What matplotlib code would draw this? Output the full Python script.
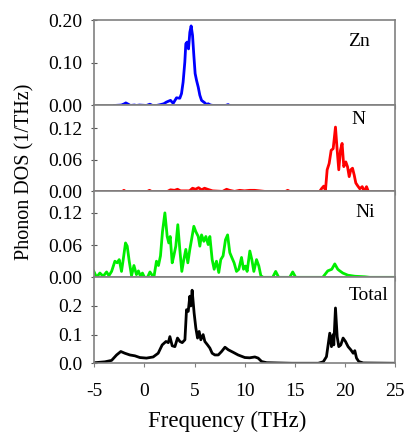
import numpy as np
import matplotlib
matplotlib.use("Agg")
import matplotlib.pyplot as plt
from matplotlib.ticker import FormatStrFormatter

plt.rcParams['font.family'] = ['Liberation Serif', 'DejaVu Serif']
plt.rcParams['axes.unicode_minus'] = False

# partial phonon DOS, read as (frequency THz, DOS 1/THz)
zn_f = [-3.0, -2.3, -2.0, -1.86, -1.7, -1.4, -1.0, -0.8, -0.5, 0.2, 0.54, 0.8, 1.2, 1.6,
        1.93, 2.2, 2.6, 2.87, 3.2, 3.53, 3.7, 3.86, 4.03, 4.13, 4.26, 4.4, 4.53, 4.66,
        4.8, 4.93, 5.06, 5.2, 5.37, 5.53, 5.7, 6.03, 6.2, 6.36, 6.6, 6.86, 7.36, 8.1,
        8.35, 8.5]
zn_v = [0, 0.001, 0.004, 0.006, 0.004, 0, 0.001, 0, 0.001, 0, 0.003, 0, 0, 0.002,
        0.004, 0.008, 0.012, 0.005, 0.018, 0.017, 0.028, 0.055, 0.102, 0.145, 0.149,
        0.133, 0.172, 0.187, 0.165, 0.118, 0.075, 0.059, 0.043, 0.024, 0.012, 0.006,
        0.002, 0.004, 0.001, 0, 0, 0, 0.002, 0]

n_f = [-5, -2.2, -2.05, -1.9, 0.3, 0.5, 0.7, 2.3, 2.6, 3.0, 3.3, 3.6, 4.5, 4.8, 5.1,
       5.4, 5.7, 6.0, 6.3, 6.8, 7.8, 8.2, 8.5, 9.0, 9.5, 10.0, 10.5, 11.0, 11.5, 12.0,
       14.1, 14.3, 14.5, 17.5, 17.67, 17.9, 18.07, 18.24, 18.44, 18.64, 18.84, 19.07,
       19.24, 19.4, 19.57, 19.73, 19.9, 20.1, 20.27, 20.44, 20.6, 20.77, 20.94, 21.1,
       21.27, 21.5, 21.74, 21.94, 22.17, 22.35, 25]
n_v = [0, 0, 0.002, 0, 0, 0.002, 0, 0, 0.003, 0.002, 0.004, 0.001, 0.001, 0.006,
       0.004, 0.007, 0.003, 0.006, 0.004, 0.001, 0, 0.004, 0.002, 0, 0.002, 0.001,
       0.002, 0.002, 0.001, 0, 0, 0.002, 0, 0, 0.005, 0.01, 0.002, 0.041, 0.053, 0.078,
       0.081, 0.122, 0.078, 0.041, 0.078, 0.091, 0.047, 0.056, 0.047, 0.028, 0.041,
       0.044, 0.031, 0.016, 0.011, 0.005, 0.009, 0, 0.009, 0, 0]

ni_f = [-5.05, -4.78, -4.45, -4.12, -3.78, -3.55, -3.28, -2.95, -2.72, -2.52, -2.29,
        -2.12, -1.89, -1.72, -1.52, -1.29, -1.05, -0.8, -0.6, -0.4, -0.2, 0.0, 0.3,
        0.55, 0.8, 0.94, 1.2, 1.4, 1.6, 1.8, 2.04, 2.27, 2.43, 2.57, 2.77, 2.93, 3.13,
        3.33, 3.53, 3.73, 3.93, 4.13, 4.33, 4.53, 4.7, 4.93, 5.13, 5.37, 5.53, 5.7,
        5.93, 6.13, 6.36, 6.53, 6.76, 6.96, 7.19, 7.42, 7.62, 7.85, 8.09, 8.3, 8.52,
        8.72, 8.95, 9.19, 9.42, 9.69, 9.89, 10.09, 10.25, 10.52, 10.72, 10.92, 11.19,
        11.42, 11.62, 11.85, 12.8, 13.1, 13.4, 14.5, 14.8, 15.1, 17.8, 18.3, 18.7,
        19.0, 19.3, 19.5, 19.8, 20.3, 21.0, 22.0, 22.5, 25]
ni_v = [0.011, 0.0, 0.008, 0.002, 0.01, 0.003, 0.011, 0.03, 0.027, 0.033, 0.011,
        0.033, 0.064, 0.058, 0.03, 0.003, 0.022, 0.005, 0.012, 0.002, 0.008, 0.0, 0.0,
        0.01, 0.003, 0.0, 0.03, 0.022, 0.04, 0.085, 0.12, 0.076, 0.064, 0.076, 0.027,
        0.04, 0.058, 0.098, 0.052, 0.011, 0.033, 0.052, 0.027, 0.052, 0.07, 0.095,
        0.085, 0.076, 0.058, 0.079, 0.067, 0.076, 0.061, 0.076, 0.033, 0.015, 0.03,
        0.009, 0.033, 0.04, 0.07, 0.079, 0.046, 0.037, 0.027, 0.011, 0.015, 0.037,
        0.015, 0.021, 0.011, 0.049, 0.033, 0.011, 0.033, 0.021, 0.003, 0.0, 0.0, 0.011,
        0.0, 0.0, 0.01, 0.0, 0.0, 0.012, 0.015, 0.025, 0.015, 0.012, 0.008, 0.004,
        0.002, 0.001, 0.0, 0.0]

tot_f = [-4.95, -3.95, -3.28, -2.78, -2.36, -1.96, -1.46, -0.96, -0.46, 0.2, 0.87,
         1.37, 1.77, 2.15, 2.38, 2.54, 2.77, 3.04, 3.3, 3.54, 3.77, 4.04, 4.2, 4.37,
         4.53, 4.63, 4.76, 4.96, 5.13, 5.3, 5.46, 5.63, 5.86, 6.03, 6.3, 6.53, 6.76,
         7.03, 7.37, 7.7, 8.04, 8.37, 8.87, 9.35, 10.02, 10.5, 11.02, 11.35, 11.7, 12.2,
         13.35, 14.7, 17.35, 17.85, 18.17, 18.5, 18.67, 18.84, 18.9, 19.07, 19.24, 19.4,
         19.6, 19.83, 20.07, 20.33, 20.6, 20.84, 21.0, 21.17, 21.4, 21.84, 25]
tot_v = [0.002, 0.005, 0.01, 0.029, 0.041, 0.035, 0.029, 0.026, 0.02, 0.018, 0.022,
         0.035, 0.064, 0.076, 0.072, 0.093, 0.061, 0.058, 0.088, 0.076, 0.072, 0.082,
         0.187, 0.181, 0.234, 0.2, 0.255, 0.175, 0.123, 0.088, 0.111, 0.082, 0.1, 0.076,
         0.064, 0.053, 0.035, 0.029, 0.029, 0.041, 0.056, 0.047, 0.038, 0.029, 0.02,
         0.019, 0.022, 0.018, 0.006, 0.002, 0.001, 0, 0, 0.005, 0.023, 0.105, 0.058,
         0.1, 0.064, 0.193, 0.093, 0.058, 0.064, 0.088, 0.076, 0.058, 0.047, 0.035,
         0.044, 0.018, 0.006, 0.001, 0]

panels = [
    ("Zn", zn_f, zn_v, "#0000ff", 0.202, [0, 0.1, 0.2], "%.2f", (0.917, 0.74)),
    ("N", n_f, n_v, "#ff0000", 0.163, [0, 0.06, 0.12], "%.2f", (0.903, 0.84)),
    ("Ni", ni_f, ni_v, "#00ee00", 0.16, [0, 0.06, 0.12], "%.2f", (0.933, 0.75)),
    ("Total", tot_f, tot_v, "black", 0.30, [0, 0.1, 0.2], "%.1f", (0.98, 0.79)),
]

fig, axes = plt.subplots(4, 1, sharex=True, figsize=(4.05, 4.34), dpi=100)
fig.subplots_adjust(left=0.233, right=0.975, top=0.955, bottom=0.163, hspace=0)

for ax, (name, f, v, col, ymax, yt, fmt, pos) in zip(axes, panels):
    ax.plot(f, v, color=col, lw=2.0)
    ax.set_xlim(-5, 25)
    ax.set_ylim(0, ymax)
    ax.set_yticks(yt)
    ax.yaxis.set_major_formatter(FormatStrFormatter(fmt))
    ax.text(pos[0], pos[1], name, transform=ax.transAxes, ha="right", va="center",
            fontsize=14)
    for s in ax.spines.values():
        s.set_color("#808080")
        s.set_linewidth(1.2)
    ax.tick_params(axis="y", direction="inout", length=5, width=0.8, pad=6,
                   labelsize=14, color="#555555")
    ax.tick_params(axis="x", direction="out", length=3, width=0.8, pad=11,
                   labelsize=14, color="#808080")

axes[-1].set_xticks(np.arange(-5, 26, 5))

fig.text(0.562, 0.004, "Frequency (THz)", ha="center", va="bottom", fontsize=16.5)
fig.text(0.062, 0.604, "Phonon DOS (1/THz)", ha="center", va="center",
         rotation=90, fontsize=14.5)

fig.savefig("out.png", dpi=100)
